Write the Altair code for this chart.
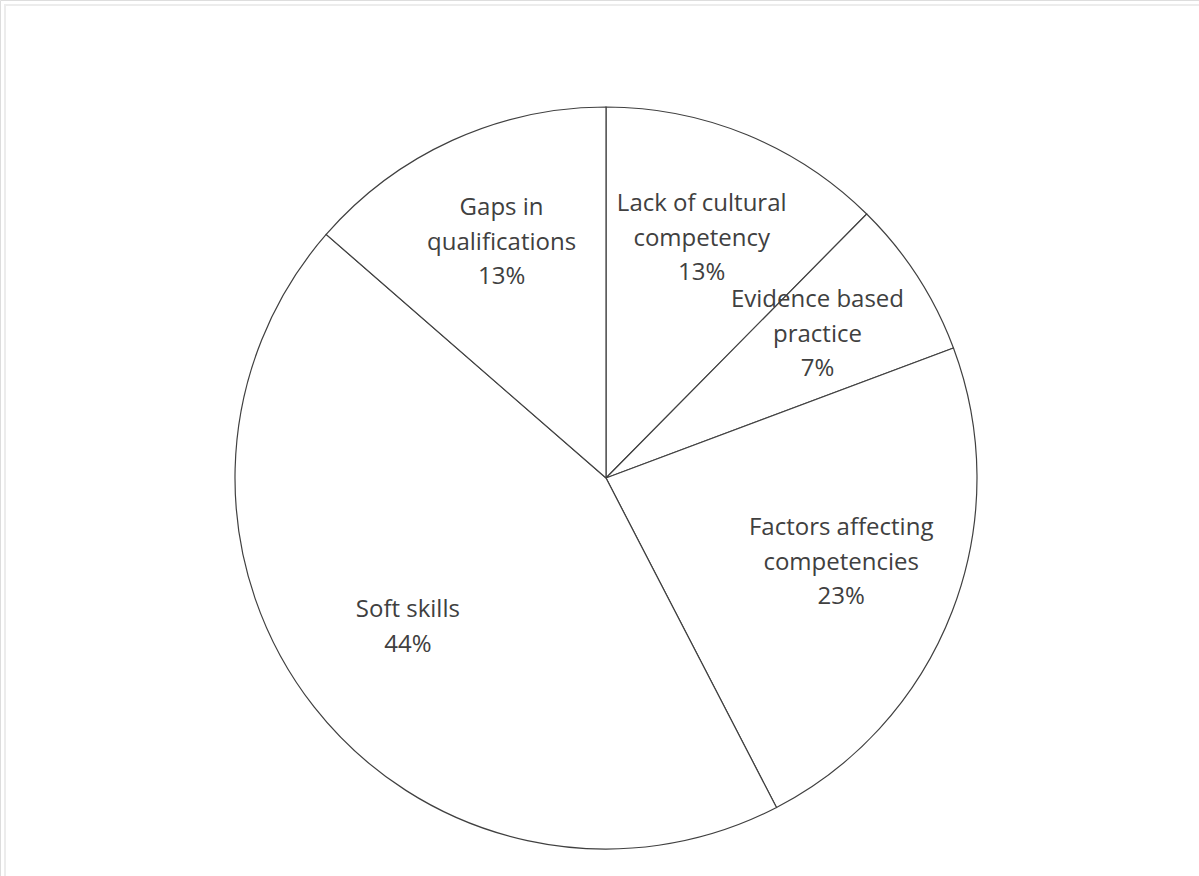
import altair as alt
import pandas as pd

categories = [
    "Lack of cultural competency",
    "Evidence based practice",
    "Factors affecting competencies",
    "Soft skills",
    "Gaps in qualifications",
]
values = [12.4, 6.9, 23.1, 44.0, 13.6]
labels = [
    "Lack of cultural\ncompetency\n13%",
    "Evidence based\npractice\n7%",
    "Factors affecting\ncompetencies\n23%",
    "Soft skills\n44%",
    "Gaps in\nqualifications\n13%",
]

df = pd.DataFrame({
    "category": categories,
    "value": values,
    "label": labels,
    "idx": list(range(len(categories))),
    "nlines": [len(s.split("\n")) for s in labels],
})

W, H = 1199, 876
CX, CY, R = 606, 478, 371
FONT = "Open Sans"
INK = "#404040"
LH = 34.5

border = alt.Chart(pd.DataFrame({"a": [0]})).mark_rect(
    fill=None, stroke="#ececec", strokeWidth=2
).encode(
    x=alt.value(5), y=alt.value(5), x2=alt.value(W + 20), y2=alt.value(H + 20)
)

base = alt.Chart(df).encode(
    theta=alt.Theta("value:Q", stack=True),
    order=alt.Order("idx:Q"),
    x=alt.value(CX),
    y=alt.value(CY),
)

arcs = base.mark_arc(
    radius=R, fill="white", stroke=INK, strokeWidth=1.2
)


def text_layer(n):
    return base.mark_text(
        radius=252, font=FONT, fontSize=24, color=INK, lineBreak="\n",
        lineHeight=LH, align="center", baseline="middle",
        dy=-(n - 1) * LH / 2 - 6,
    ).encode(
        text="label:N",
        opacity=alt.condition(f"datum.nlines == {n}", alt.value(1), alt.value(0)),
    )


chart = alt.layer(border, arcs, text_layer(2), text_layer(3)).properties(
    width=W, height=H, padding=0,
    autosize=alt.AutoSizeParams(type="none"),
).configure_view(stroke=None).configure(background="white")

chart.save("out.html", embed_options={"renderer": "svg", "actions": False})
